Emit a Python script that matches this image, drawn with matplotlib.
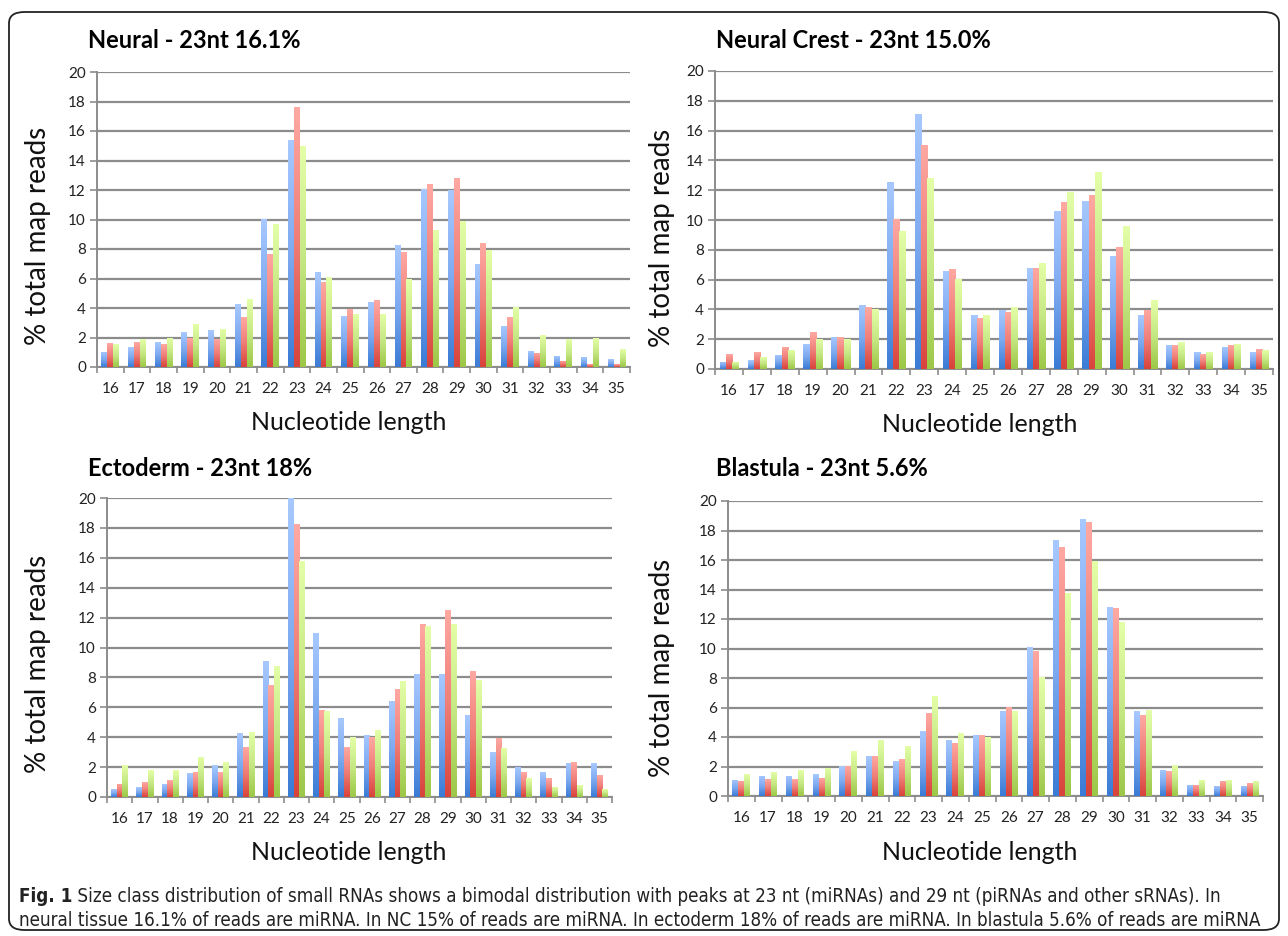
import numpy as np
import matplotlib
matplotlib.use("Agg")
import matplotlib.pyplot as plt
from matplotlib.colors import LinearSegmentedColormap
from matplotlib.patches import FancyBboxPatch

# ---------------- data ----------------
lengths = [str(n) for n in range(16, 36)]
y_ticks = [0, 2, 4, 6, 8, 10, 12, 14, 16, 18, 20]

titles = ["Neural - 23nt 16.1%", "Neural Crest - 23nt 15.0%",
          "Ectoderm - 23nt 18%", "Blastula - 23nt 5.6%"]

neural_blue = [1.05, 1.33, 1.67, 2.35, 2.5, 4.27, 10.06, 15.37, 6.44, 3.48,
               4.38, 8.25, 12.1, 11.98, 7.0, 2.8, 1.1, 0.77, 0.66, 0.54]
neural_red = [1.6, 1.67, 1.54, 2.0, 1.9, 3.37, 7.68, 17.63, 5.76, 3.93,
              4.52, 7.8, 12.43, 12.8, 8.38, 3.37, 0.97, 0.43, 0.2, 0.2]
neural_green = [1.54, 1.88, 2.0, 2.9, 2.58, 4.6, 9.7, 15.0, 6.08, 3.6,
                3.6, 6.0, 9.27, 9.92, 7.9, 4.05, 2.2, 1.88, 2.0, 1.2]

crest_blue = [0.47, 0.6, 0.94, 1.68, 2.15, 4.3, 12.57, 17.1, 6.58, 3.62,
              3.96, 6.8, 10.63, 11.3, 7.58, 3.62, 1.59, 1.12, 1.48, 1.12]
crest_red = [1.0, 1.14, 1.48, 2.48, 2.15, 4.16, 10.07, 15.06, 6.69, 3.42,
             3.85, 6.8, 11.23, 11.66, 8.17, 3.96, 1.59, 1.0, 1.59, 1.34]
crest_green = [0.47, 0.8, 1.28, 2.04, 2.04, 4.0, 9.28, 12.8, 6.02, 3.62,
               4.16, 7.14, 11.88, 13.22, 9.62, 4.63, 1.81, 1.12, 1.68, 1.25]

ecto_blue = [0.51, 0.65, 0.87, 1.58, 2.12, 4.26, 9.1, 20.0, 11.0, 5.27,
             4.15, 6.43, 8.24, 8.24, 5.49, 3.01, 2.0, 1.67, 2.25, 2.25]
ecto_red = [0.87, 1.0, 1.12, 1.67, 1.67, 3.37, 7.52, 18.28, 5.83, 3.37,
            4.0, 7.21, 11.6, 12.52, 8.46, 3.97, 1.67, 1.27, 2.34, 1.45]
ecto_green = [2.12, 1.79, 1.79, 2.68, 2.34, 4.375, 8.77, 15.8, 5.74, 4.0,
              4.49, 7.77, 11.45, 11.6, 7.83, 3.28, 1.27, 0.67, 0.8, 0.51]

blast_blue = [1.1, 1.36, 1.36, 1.47, 2.03, 2.71, 2.35, 4.38, 3.8, 4.14,
              5.73, 10.11, 17.34, 18.76, 12.84, 5.73, 1.78, 0.77, 0.68, 0.68]
blast_red = [1.02, 1.13, 1.13, 1.24, 2.03, 2.71, 2.49, 5.63, 3.6, 4.14,
             6.05, 9.86, 16.88, 18.56, 12.73, 5.51, 1.67, 0.77, 1.02, 0.88]
blast_green = [1.47, 1.65, 1.76, 1.92, 3.03, 3.8, 3.39, 6.76, 4.25, 4.02,
               5.73, 8.04, 13.79, 15.94, 11.78, 5.82, 2.12, 1.1, 1.1, 1.02]

panels = [
    (neural_blue, neural_red, neural_green),
    (crest_blue, crest_red, crest_green),
    (ecto_blue, ecto_red, ecto_green),
    (blast_blue, blast_red, blast_green),
]

x_label = "Nucleotide length"
y_label = "% total map reads"
caption_bold = "Fig. 1"
caption_1 = (" Size class distribution of small RNAs shows a bimodal distribution with peaks at 23 nt "
             "(miRNAs) and 29 nt (piRNAs and other sRNAs). In")
caption_2 = ("neural tissue 16.1% of reads are miRNA. In NC 15% of reads are miRNA. In ectoderm 18% "
             "of reads are miRNA. In blastula 5.6% of reads are miRNA")

# ---------------- style ----------------
W, H = 1288, 936
fig = plt.figure(figsize=(W / 100, H / 100), dpi=100)
FONT = ["Lato", "DejaVu Sans"]
CAPFONT = ["DejaVu Sans"]

grad_maps = [
    LinearSegmentedColormap.from_list("b", ["#3a7bd5", "#7eaaf0", "#a8c9ff"]),
    LinearSegmentedColormap.from_list("r", ["#d8433b", "#ef7f78", "#ffa9a3"]),
    LinearSegmentedColormap.from_list("g", ["#9cc746", "#c6e884", "#e4ffa8"]),
]
GRID = "#8c8c8c"


def px(x, y):
    return x / W, 1 - y / H


# axes rectangles (pixel left, top, right, bottom)
rects = [(97, 72, 630, 367), (715, 71, 1273, 369),
         (107, 498, 612, 797), (728, 501, 1263, 796)]
title_pos = [(88, 41), (716, 41), (88, 468), (716, 468)]
xlab_pos = [(349, 422), (980, 425), (349, 852), (980, 852)]
ylab_pos = [(38, 236), (662, 238), (38, 664), (662, 668)]

bw = 1 / 4.5
grad = np.linspace(0, 1, 256).reshape(-1, 1)

for i, series in enumerate(panels):
    l, t, r, b = rects[i]
    ax = fig.add_axes([l / W, 1 - b / H, (r - l) / W, (b - t) / H])
    x = np.arange(len(lengths))
    for k, vals in enumerate(series):
        bars = ax.bar(x + (k - 1) * bw, vals, width=bw, color="none",
                      edgecolor="none", zorder=3)
        for p in bars.patches:
            x0, y0 = p.get_x(), p.get_y()
            w, h = p.get_width(), p.get_height()
            im = ax.imshow(grad, extent=[x0, x0 + w, y0, y0 + h], origin="lower",
                           aspect="auto", cmap=grad_maps[k], zorder=3,
                           interpolation="bilinear")
            im.set_clip_path(p)
    ax.set_xlim(-0.5, len(lengths) - 0.5)
    ax.set_ylim(0, 20)
    ax.set_yticks(y_ticks)
    ax.set_yticklabels([str(v) for v in y_ticks], fontsize=11,
                       family=FONT, color="#222222")
    ax.set_xticks(x)
    ax.set_xticklabels(lengths, fontsize=11, family=FONT, color="#222222")
    ax.set_xticks(np.arange(-0.5, len(lengths)), minor=True)
    ax.tick_params(axis="x", which="major", length=0, pad=11)
    ax.tick_params(axis="x", which="minor", length=4, width=1.2, color=GRID)
    ax.tick_params(axis="y", length=5, width=1.2, color=GRID, pad=3)
    ax.grid(axis="y", color=GRID, linewidth=1.6, zorder=1)
    ax.set_axisbelow(True)
    for s in ["top", "right"]:
        ax.spines[s].set_visible(False)
    for s in ["left", "bottom"]:
        ax.spines[s].set_color(GRID)
        ax.spines[s].set_linewidth(1.4)
    ax.patch.set_alpha(0)

    tx, ty = px(*title_pos[i])
    fig.text(tx, ty, titles[i], fontsize=17, fontweight="bold", family=FONT,
             ha="left", va="center", color="black")
    lx, ly = px(*xlab_pos[i])
    fig.text(lx, ly, x_label, fontsize=18, family=FONT, ha="center",
             va="center", color="#111111")
    yx, yy = px(*ylab_pos[i])
    fig.text(yx, yy, y_label, fontsize=20, family=FONT, ha="center",
             va="center", rotation=90, color="#111111")

# border frame
frame = FancyBboxPatch((9 / W, 1 - 930 / H), (1279 - 9) / W, (930 - 12) / H,
                       boxstyle="round,pad=0,rounding_size=0.012",
                       transform=fig.transFigure, fill=False,
                       edgecolor="#222222", linewidth=1.3)
fig.patches.append(frame)

# caption (condensed, size chosen so that line 2 spans the frame width)
cap_size = 12.5
cx, cy = px(19, 897)
cx2, cy2 = px(19, 920)
t1 = fig.text(cx, cy, caption_bold, fontsize=cap_size, fontweight="bold",
              family=CAPFONT, stretch="condensed", ha="left", va="center",
              color="#222222")
t2 = fig.text(cx, cy, caption_1, fontsize=cap_size, family=CAPFONT,
              stretch="condensed", ha="left", va="center", color="#222222")
t3 = fig.text(cx2, cy2, caption_2, fontsize=cap_size, family=CAPFONT,
              stretch="condensed", ha="left", va="center", color="#222222")
fig.canvas.draw()
r = fig.canvas.get_renderer()
w3 = t3.get_window_extent(r).width
target = 1266 - 19
s = cap_size * target / w3
for t in (t1, t2, t3):
    t.set_fontsize(s)
fig.canvas.draw()
bb = t1.get_window_extent(r)
t2.set_x(bb.x1 / W)

fig.savefig("out.png", dpi=100)
